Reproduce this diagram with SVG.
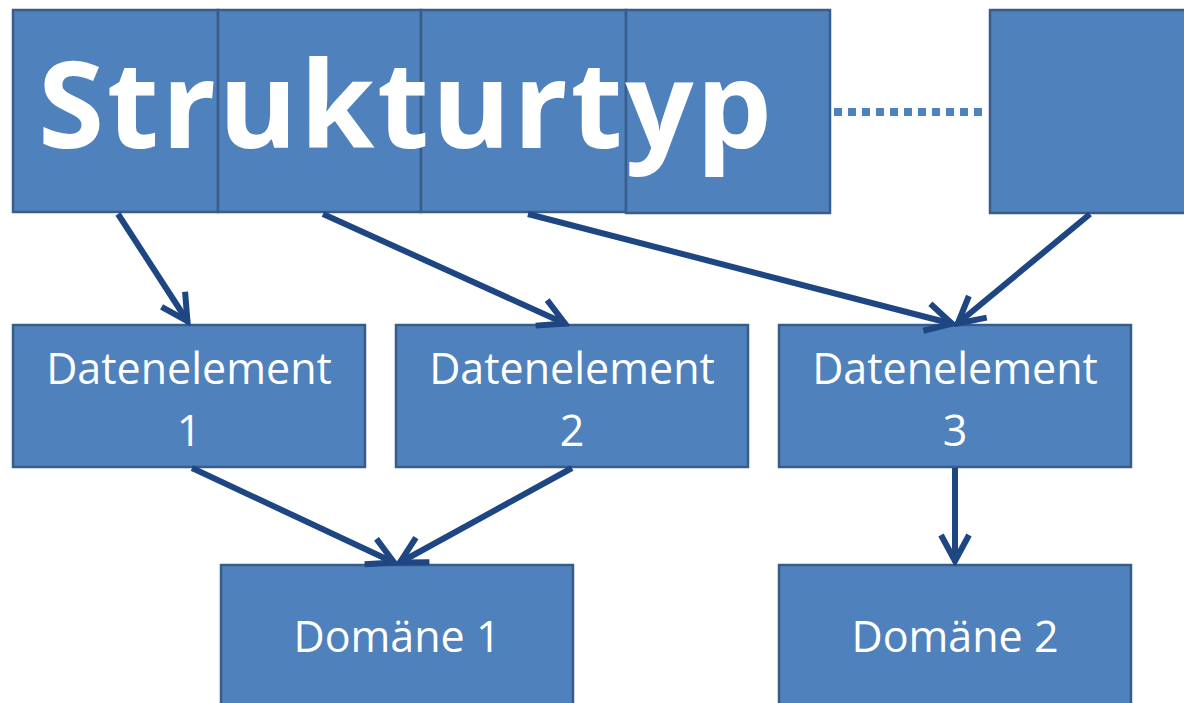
<svg xmlns="http://www.w3.org/2000/svg" width="1184" height="703" viewBox="0 0 1184 703">
<defs>
<style>
.box{fill:#4F81BD;stroke:#385D8A;stroke-width:2.5}
.lbl{font-family:"Open Sans","Noto Sans",sans-serif;font-size:43px;fill:#FFFFFF;text-anchor:middle}
.big{font-family:"Open Sans","Noto Sans",sans-serif;font-weight:bold;font-size:120px;fill:#FFFFFF}
.arr{stroke:#1D4683;stroke-width:6;fill:none;marker-end:url(#ah)}
</style>
<marker id="ah" markerUnits="userSpaceOnUse" viewBox="0 0 36 36" refX="32" refY="18" markerWidth="36" markerHeight="36" orient="auto">
<path d="M5,4 L31,18 L5,32" fill="none" stroke="#1D4683" stroke-width="6" stroke-linejoin="miter"/>
</marker>
</defs>
<rect width="1184" height="703" fill="#FFFFFF"/>
<g id="top1"><rect class="box" x="13" y="10" width="205" height="202"/></g>
<g id="top2"><rect class="box" x="218" y="10" width="203" height="202"/></g>
<g id="top3"><rect class="box" x="421" y="10" width="205" height="202"/></g>
<g id="top4"><rect class="box" x="626" y="10" width="204" height="203"/></g>
<g id="top5"><rect class="box" x="990" y="10" width="200" height="203"/></g>
<g id="title"><text class="big" x="38" y="148" textLength="734" lengthAdjust="spacing">Strukturtyp</text></g>
<g id="de1"><rect class="box" x="13" y="325" width="352" height="142"/><text class="lbl" x="189" y="384">Datenelement</text><text class="lbl" x="189" y="446">1</text></g>
<g id="de2"><rect class="box" x="396" y="325" width="352" height="142"/><text class="lbl" x="572" y="384">Datenelement</text><text class="lbl" x="572" y="446">2</text></g>
<g id="de3"><rect class="box" x="779" y="325" width="352" height="142"/><text class="lbl" x="955" y="384">Datenelement</text><text class="lbl" x="955" y="446">3</text></g>
<g id="dom1"><rect class="box" x="221" y="565" width="352" height="145"/><text class="lbl" x="397" y="652">Domäne 1</text></g>
<g id="dom2"><rect class="box" x="779" y="565" width="352" height="145"/><text class="lbl" x="955" y="652">Domäne 2</text></g>
<g id="connectors">
<line x1="834" y1="112" x2="988" y2="112" stroke="#4F81BD" stroke-width="8" stroke-dasharray="8,6"/>
<line class="arr" x1="118" y1="214" x2="188" y2="322"/>
<line class="arr" x1="323" y1="214" x2="566" y2="324"/>
<line class="arr" x1="528" y1="214" x2="953" y2="324"/>
<line class="arr" x1="1090" y1="214" x2="957" y2="324"/>
<line class="arr" x1="192" y1="468" x2="395" y2="563"/>
<line class="arr" x1="572" y1="468" x2="399" y2="563"/>
<line class="arr" x1="955" y1="468" x2="955" y2="562"/>
</g>
</svg>
